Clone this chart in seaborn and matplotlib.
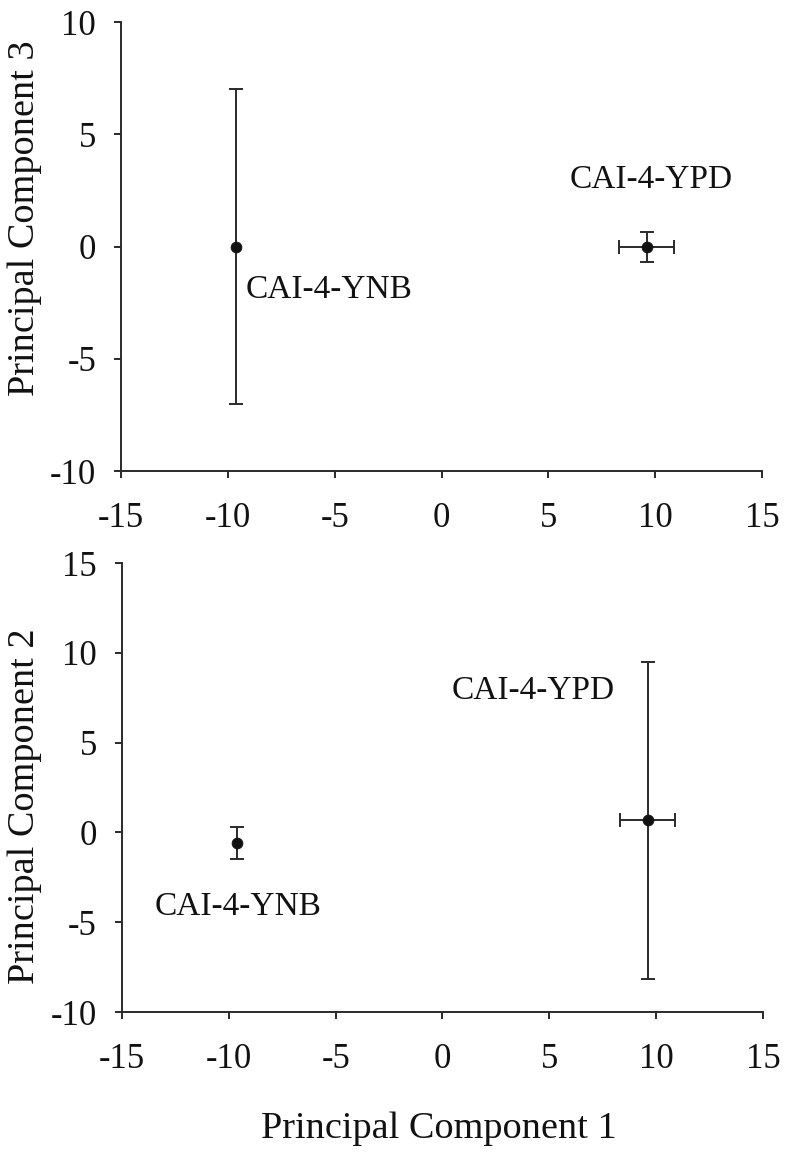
import matplotlib
matplotlib.use("Agg")
import matplotlib.pyplot as plt
import seaborn as sns
import pandas as pd

sns.set_theme(style="ticks")
plt.rcParams['font.family'] = ['Liberation Serif', 'DejaVu Serif']

strains = ["CAI-4-YNB", "CAI-4-YPD"]
pc1 = [-9.6, 9.6]
pc1_err = [0.0, 1.3]
pc2 = [-0.6, 0.67]
pc2_err = [0.88, 8.85]
pc3 = [0.0, 0.0]
pc3_err = [7.0, 0.67]

# label positions (data coords)
top_label_xy = [(-9.15, -1.94), (9.8, 2.96)]
top_label_ha = ["left", "center"]
bot_label_xy = [(-9.57, -4.13), (4.23, 7.9)]
bot_label_ha = ["center", "center"]

xticks = [-15, -10, -5, 0, 5, 10, 15]
top_yticks = [-10, -5, 0, 5, 10]
bot_yticks = [-10, -5, 0, 5, 10, 15]

df = pd.DataFrame({"strain": strains, "pc1": pc1, "pc2": pc2, "pc3": pc3})

fig = plt.figure(figsize=(7.89, 11.57), dpi=100)
ax1 = fig.add_axes([0.1534, 0.5929, 0.8124, 0.388])
ax2 = fig.add_axes([0.1546, 0.1253, 0.8124, 0.388])

TFS = 25
LFS = 24
AFS = 27.5
INK = "#2a2a2a"

def style(ax, yt, ylim, ylabel, ylab_y):
    ax.set_xlim(-15, 15)
    ax.set_ylim(*ylim)
    ax.set_xticks(xticks)
    ax.set_yticks(yt)
    ax.set_xticklabels([str(v) for v in xticks])
    ax.set_yticklabels([str(v) for v in yt])
    sns.despine(ax=ax)
    for s in ["left", "bottom"]:
        ax.spines[s].set_color(INK)
        ax.spines[s].set_linewidth(1.4)
    ax.tick_params(axis="both", direction="out", length=5, width=1.4,
                   color=INK, labelsize=TFS, labelcolor="#111111")
    ax.tick_params(axis="x", pad=17)
    ax.tick_params(axis="y", pad=13)
    ax.set_ylabel(ylabel, fontsize=AFS, color="#111111")
    ax.yaxis.set_label_coords(-0.124, ylab_y)
    ax.set_xlabel("")
    ax.set_facecolor("white")

# Top: PC1 vs PC3
ax1.errorbar(pc1, pc3, xerr=pc1_err, yerr=pc3_err, fmt="none",
             ecolor=INK, elinewidth=1.4, capsize=4.7, capthick=1.4, zorder=2)
sns.scatterplot(data=df, x="pc1", y="pc3", ax=ax1, color="#111111",
                s=60, edgecolor="#111111", zorder=3, legend=False)
for name, (lx, ly), ha in zip(strains, top_label_xy, top_label_ha):
    ax1.text(lx, ly, name, ha=ha, va="center", fontsize=LFS, color="#111111")
style(ax1, top_yticks, (-10, 10), "Principal Component 3", 0.563)

# Bottom: PC1 vs PC2
ax2.errorbar(pc1, pc2, xerr=pc1_err, yerr=pc2_err, fmt="none",
             ecolor=INK, elinewidth=1.4, capsize=4.7, capthick=1.4, zorder=2)
sns.scatterplot(data=df, x="pc1", y="pc2", ax=ax2, color="#111111",
                s=60, edgecolor="#111111", zorder=3, legend=False)
for name, (lx, ly), ha in zip(strains, bot_label_xy, bot_label_ha):
    ax2.text(lx, ly, name, ha=ha, va="center", fontsize=LFS, color="#111111")
style(ax2, bot_yticks, (-10, 15), "Principal Component 2", 0.459)
ax2.set_xlabel("Principal Component 1", fontsize=AFS, color="#111111")
ax2.xaxis.set_label_coords(0.494, -0.222)

fig.savefig("out.png", dpi=100, facecolor="white")
